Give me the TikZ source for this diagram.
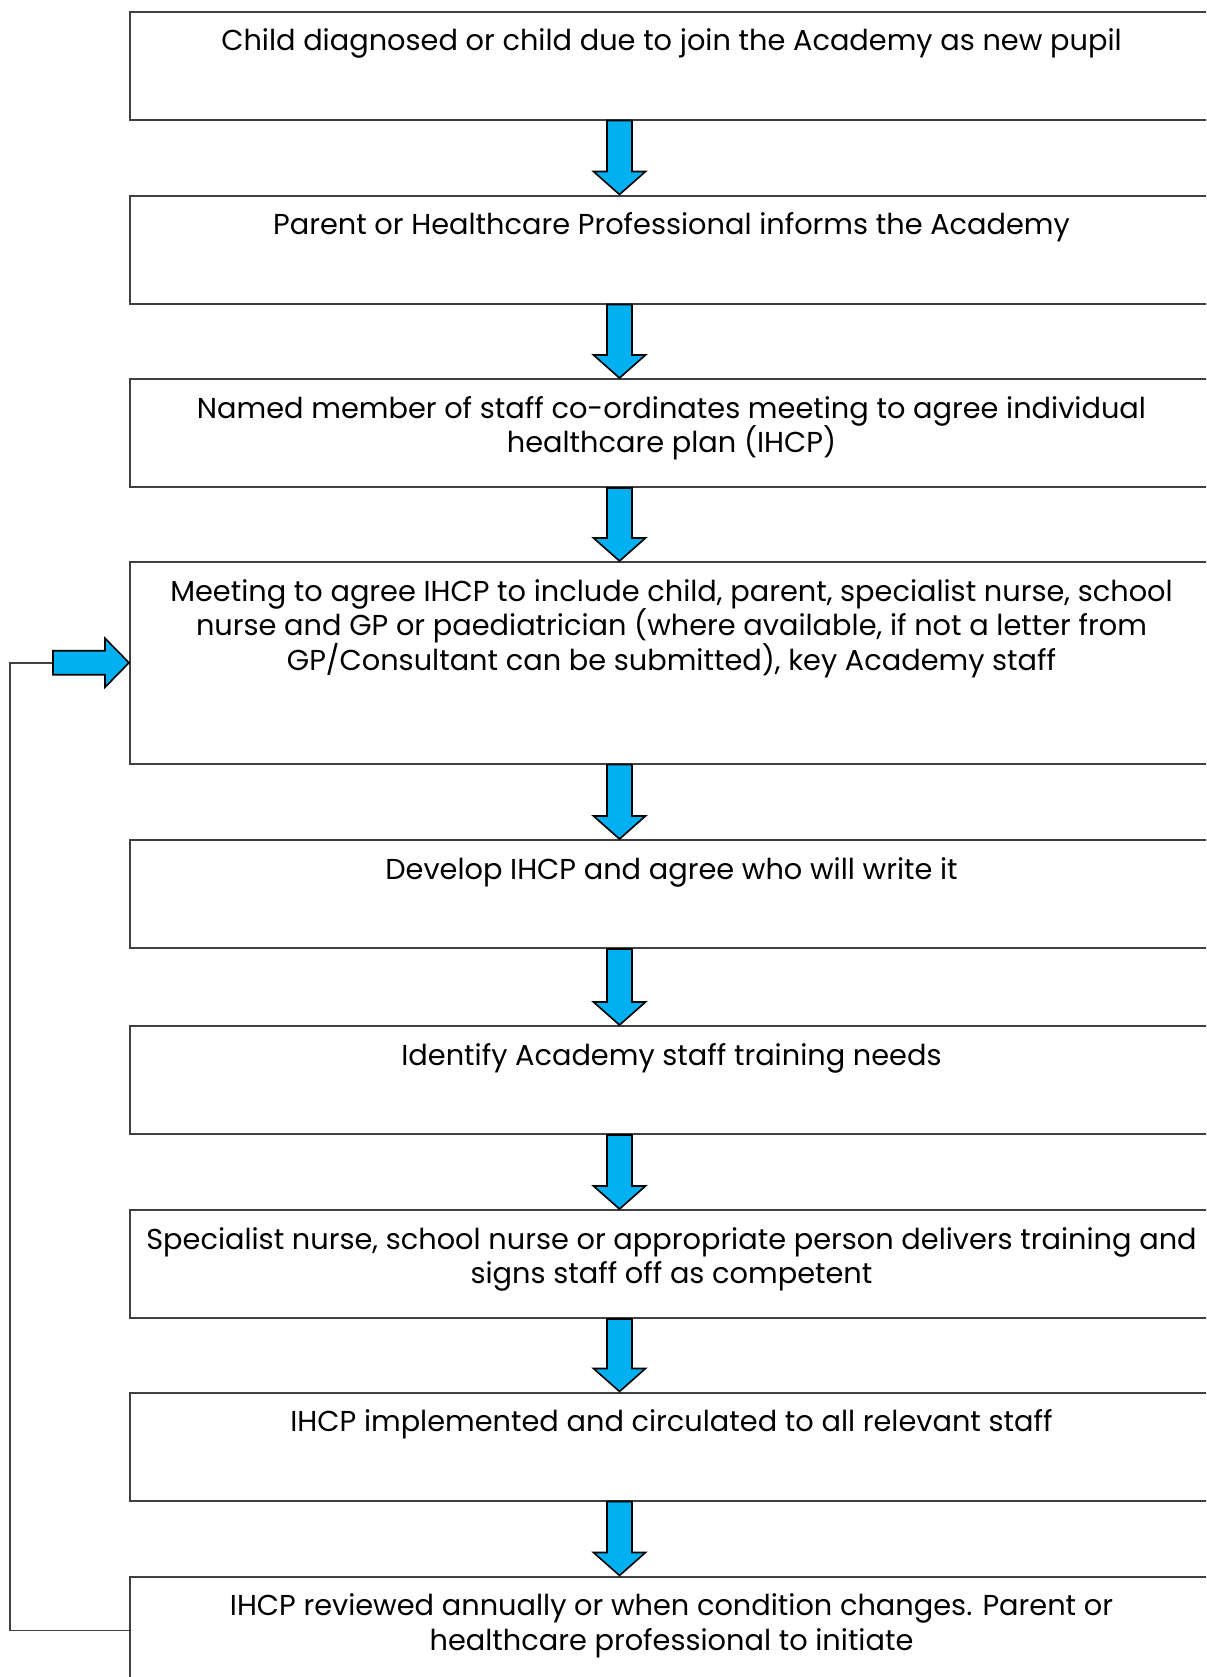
\documentclass[tikz,border=0pt]{standalone}
\usepackage{fontspec}
\setmainfont{Poppins}
\usetikzlibrary{calc}
\definecolor{arrowblue}{HTML}{00B0F0}
\definecolor{boxline}{HTML}{404040}
\newcommand\boxtxt[2]{\parbox[b][#1][t]{541.5pt}{\centering\fontsize{14.4pt}{17.35pt}\selectfont\lineskiplimit=-\maxdimen\rule{0pt}{19.5pt}#2}}
\newcommand\flowarrow[2]{%
  \draw[barrow] ($(#1.south -| axis)+(-12.5,0)$) -- ($(#1.south -| axis)+(12.5,0)$)
    -- ($(#2.north -| axis)+(12.5,-23)$) -- ($(#2.north -| axis)+(26,-23)$)
    -- (#2.north -| axis) -- ($(#2.north -| axis)+(-26,-23)$)
    -- ($(#2.north -| axis)+(-12.5,-23)$) -- cycle;}
\begin{document}
\begin{tikzpicture}[x=0.5pt,y=-0.5pt,
  box/.style={draw=boxline, line width=1pt, inner sep=0pt, anchor=north west,
    minimum width=541.5pt},
  barrow/.style={fill=arrowblue, draw=black, line width=0.8pt, line join=miter},
  loopline/.style={draw=boxline, line width=0.9pt}]
\useasboundingbox (0,0) rectangle (1206,1677);
\clip (0,0) rectangle (1206,1677);
\coordinate (axis) at (619.5,0);
\node[box] (b1) at (129,10.5) {\boxtxt{54pt}{Child diagnosed or child due to join the Academy as new pupil}};
\node[box] (b2) at (129,194.5) {\boxtxt{54pt}{Parent or Healthcare Professional informs the Academy}};
\node[box] (b3) at (129,378) {\boxtxt{54pt}{Named member of staff co-ordinates meeting to agree individual\\healthcare plan (IHCP)}};
\node[box] (b4) at (129,561) {\boxtxt{100.75pt}{Meeting to agree IHCP to include child, parent, specialist nurse, school\\nurse and GP or paediatrician (where available, if not a letter from\\GP/Consultant can be submitted), key Academy staff}};
\node[box] (b5) at (129,839) {\boxtxt{54pt}{Develop IHCP and agree who will write it}};
\node[box] (b6) at (129,1025) {\boxtxt{54pt}{Identify Academy staff training needs}};
\node[box] (b7) at (129,1209) {\boxtxt{54pt}{Specialist nurse, school nurse or appropriate person delivers training and\\signs staff off as competent}};
\node[box] (b8) at (129,1391.5) {\boxtxt{54pt}{IHCP implemented and circulated to all relevant staff}};
\node[box] (b9) at (129,1575.5) {\boxtxt{54pt}{IHCP reviewed annually or when condition changes. Parent or\\healthcare professional to initiate}};
\flowarrow{b1}{b2}
\flowarrow{b2}{b3}
\flowarrow{b3}{b4}
\flowarrow{b4}{b5}
\flowarrow{b5}{b6}
\flowarrow{b6}{b7}
\flowarrow{b7}{b8}
\flowarrow{b8}{b9}
\coordinate (tail) at ($(b4.west)+(-76,0)$);
\draw[loopline] (b9.west) -| ($(b4.west)+(-119,0)$) -- (tail);
\draw[barrow] ($(b4.west)+(-76,-12)$) -- ($(b4.west)+(-24,-12)$) -- ($(b4.west)+(-24,-24.5)$)
  -- (b4.west) -- ($(b4.west)+(-24,24.5)$) -- ($(b4.west)+(-24,12)$)
  -- ($(b4.west)+(-76,12)$) -- cycle;
\end{tikzpicture}
\end{document}
